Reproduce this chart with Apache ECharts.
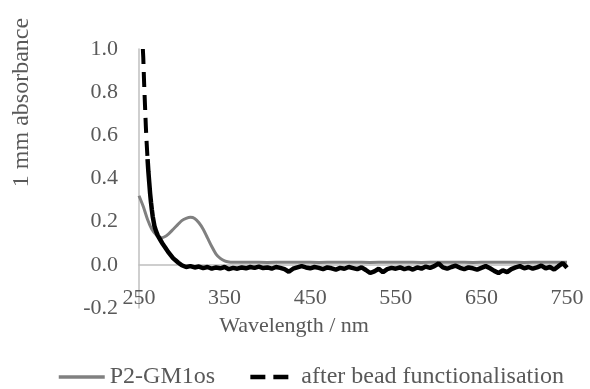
<!DOCTYPE html>
<html><head><meta charset="utf-8">
<script src="https://cdn.jsdelivr.net/npm/echarts@6/dist/echarts.min.js"></script>
<style>html,body{margin:0;padding:0;background:#fff}#c{width:590px;height:389px}</style>
</head><body><div id="c"></div>
<script>
// P2-GM1os
const grayX = [250,255,260,265,270,275,280,285,290,295,300,305,310,315,320,325,330,335,340,345,350,355,360,380,400,420,440,460,480,500,520,540,560,580,600,620,640,660,680,700,720,740,750];
const grayY = [0.32,0.27,0.21,0.165,0.14,0.125,0.13,0.145,0.165,0.185,0.205,0.215,0.22,0.215,0.195,0.165,0.125,0.085,0.05,0.03,0.018,0.013,0.012,0.012,0.011,0.012,0.012,0.011,0.012,0.012,0.011,0.012,0.012,0.011,0.012,0.012,0.011,0.012,0.012,0.011,0.012,0.012,0.012];
// after bead functionalisation: steep (dashed) part
const blackSteepX = [254.5,255,256,257,258,259,260];
const blackSteepY = [1.0,0.96,0.84,0.74,0.64,0.56,0.49];
// after bead functionalisation: remaining part
const blackX = [260,261,262,263,264,265,266,268,270,272,275,278,281,284,287,290,293,296,
 300,305,310,315,320,325,330,335,340,345,350,355,360,365,370,375,380,385,390,395,400,405,410,415,420,425,430,435,440,445,450,455,460,465,470,475,480,485,490,495,500,505,510,515,520,525,530,535,540,545,550,555,560,565,570,575,580,585,590,595,600,605,610,615,620,625,630,635,640,645,650,655,660,665,670,675,680,685,690,695,700,705,710,715,720,725,730,735,740,745,750];
const blackY = [0.49,0.43,0.38,0.33,0.29,0.255,0.225,0.18,0.155,0.135,0.115,0.095,0.078,0.06,0.045,0.03,0.02,0.01,
 -0.002,-0.01,-0.006,-0.012,-0.008,-0.015,-0.01,-0.018,-0.012,-0.016,-0.01,-0.02,-0.014,-0.018,-0.012,-0.016,-0.01,-0.014,-0.008,-0.015,-0.012,-0.018,-0.01,-0.014,-0.02,-0.032,-0.018,-0.012,-0.006,-0.012,-0.016,-0.01,-0.014,-0.02,-0.012,-0.016,-0.022,-0.014,-0.018,-0.01,-0.015,-0.02,-0.012,-0.024,-0.038,-0.03,-0.018,-0.034,-0.02,-0.014,-0.018,-0.012,-0.02,-0.014,-0.022,-0.012,-0.018,-0.008,-0.014,-0.006,0.006,-0.012,-0.018,-0.01,-0.004,-0.014,-0.02,-0.012,-0.016,-0.022,-0.014,-0.006,-0.016,-0.028,-0.038,-0.026,-0.034,-0.02,-0.012,-0.006,-0.016,-0.01,-0.018,-0.012,-0.004,-0.016,-0.01,-0.022,-0.006,0.008,-0.014];
const xTicks = [250,350,450,550,650,750];
const yTicks = [-0.2,0,0.2,0.4,0.6,0.8,1.0];
const seriesNames = ['P2-GM1os','after bead functionalisation'];

const zip = (xs, ys) => xs.map((x, i) => [x, ys[i]]);
const font = 'Liberation Serif, Times New Roman, serif';
const txt = '#595959';
const axisCol = '#bfbfbf';
const fs = 22;

const chart = echarts.init(document.getElementById('c'));
chart.setOption({
  animation: false,
  backgroundColor: '#fff',
  grid: {left: 139, right: 23, top: 49, bottom: 81, containLabel: false},
  legend: {
    top: 360, left: 52, itemWidth: 46, itemHeight: 14, itemGap: 33,
    data: [
      {name: seriesNames[0], lineStyle: {width: 3.5}},
      {name: seriesNames[1], lineStyle: {width: 4.5}}
    ],
    itemStyle: {opacity: 0},
    textStyle: {fontFamily: font, fontSize: 24, color: txt}
  },
  xAxis: {
    type: 'value', min: xTicks[0], max: xTicks[xTicks.length-1], interval: 100,
    axisLine: {onZero: true, lineStyle: {color: axisCol, width: 1.5}},
    axisTick: {show: false}, splitLine: {show: false},
    axisLabel: {fontFamily: font, fontSize: fs, color: txt, margin: -21},
    name: 'Wavelength / nm', nameLocation: 'middle', nameGap: 7, nameMoveOverlap: false,
    nameTextStyle: {fontFamily: font, fontSize: fs, color: txt, padding: [0, 118, 0, 0]}
  },
  yAxis: {
    type: 'value', min: yTicks[0], max: yTicks[yTicks.length-1], interval: 0.2,
    axisLine: {show: true, lineStyle: {color: axisCol, width: 1.5}},
    axisTick: {show: false}, splitLine: {show: false},
    axisLabel: {fontFamily: font, fontSize: fs, color: txt, margin: 21, formatter: v => v.toFixed(1)},
    name: '1 mm absorbance', nameLocation: 'middle', nameGap: 105, nameRotate: 90,
    nameTextStyle: {fontFamily: font, fontSize: 24, color: txt, padding: [0,0,0,152]}
  },
  series: [
    {name: seriesNames[0], type: 'line', data: zip(grayX, grayY), symbol: 'none', smooth: 0.3,
     lineStyle: {color: '#808080', width: 3}, itemStyle: {color: '#808080'}},
    {name: seriesNames[1], type: 'line', data: zip(blackSteepX, blackSteepY), symbol: 'none',
     lineStyle: {color: '#000', width: 4, type: [15, 8]}, itemStyle: {color: '#000'}},
    {name: seriesNames[1], type: 'line', data: zip(blackX, blackY), symbol: 'none',
     lineStyle: {color: '#000', width: 4.5}, itemStyle: {color: '#000'}}
  ]
});
</script></body></html>
